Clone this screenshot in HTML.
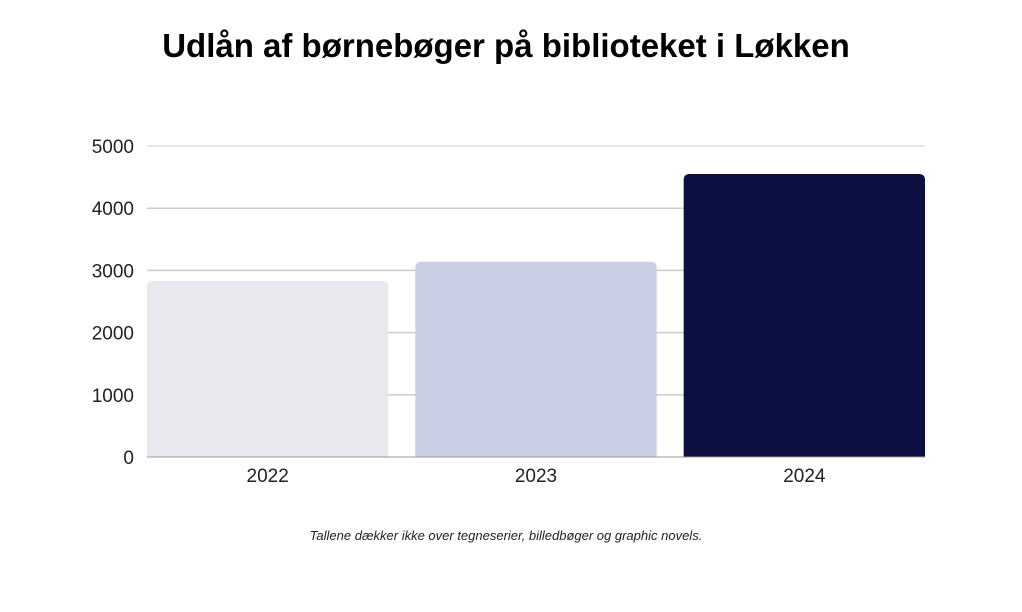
<!DOCTYPE html>
<html><head><meta charset="utf-8"><style>
body{margin:0;background:#fff;width:1022px;height:607px;overflow:hidden;font-family:"Liberation Sans",sans-serif}
</style></head><body>
<svg width="1022" height="607">
<text x="506" y="57" text-anchor="middle" font-size="33" font-weight="bold" fill="#000">Udlån af børnebøger på biblioteket i Løkken</text>
<g id="grid"></g><g id="bars"></g><g id="axes"></g>
<text x="506" y="540" text-anchor="middle" font-size="13" font-style="italic" fill="#222">Tallene dækker ikke over tegneserier, billedbøger og graphic novels.</text>
</svg>
<script>
const categories=["2022","2023","2024"];
const values=[2830,3140,4550];
const ticks=[0,1000,2000,3000,4000,5000];
const colors=["#e8e9ef","#c8cee3","#0b1040"];
const ns="http://www.w3.org/2000/svg";
const x0=147,x1=925,y0=457,yMax=5000,plotH=311;
const y=v=>y0-v/yMax*plotH;
const band=(x1-x0)/categories.length, gap=27;
function mk(t,a,p){const e=document.createElementNS(ns,t);for(const k in a)e.setAttribute(k,a[k]);p.appendChild(e);return e;}
const g=document.getElementById('grid'),b=document.getElementById('bars'),ax=document.getElementById('axes');
ticks.forEach(t=>{
 if(t>0){const l=mk('line',{x1:x0,x2:x1,y1:y(t),y2:y(t),stroke:t==5000?'#e0e0e0':'#cccccc','stroke-width':1.5},g);
 
 }
 const tx=mk('text',{x:134,y:y(t)+7,'text-anchor':'end','font-size':19,fill:'#222'},ax);tx.textContent=t;
 
 
});
categories.forEach((c,i)=>{
 const bx=x0+i*band, w=band-gap+ (i==categories.length-1?0:0);
 const bxs=i==0?bx:bx+gap*i/ (categories.length-1)*0; 
 const left=x0+i*(band+gap/ (categories.length-1)) - (i>0?0:0);
 const bw=(x1-x0-gap*(categories.length-1))/categories.length;
 const L=x0+i*(bw+gap);
 const h=y0-y(values[i]);
 const r=mk('path',{d:`M${L},${y0}V${y(values[i])+6}Q${L},${y(values[i])} ${L+6},${y(values[i])}H${L+bw-6}Q${L+bw},${y(values[i])} ${L+bw},${y(values[i])+6}V${y0}Z`,fill:colors[i]},b);
 
 
 const tx=mk('text',{x:L+bw/2,y:482,'text-anchor':'middle','font-size':19,fill:'#222'},ax);tx.textContent=c;
 
 
});
const base=mk('line',{x1:x0,x2:x1,y1:y0,y2:y0,stroke:'#999','stroke-width':1},ax);


</script>
</body></html>
